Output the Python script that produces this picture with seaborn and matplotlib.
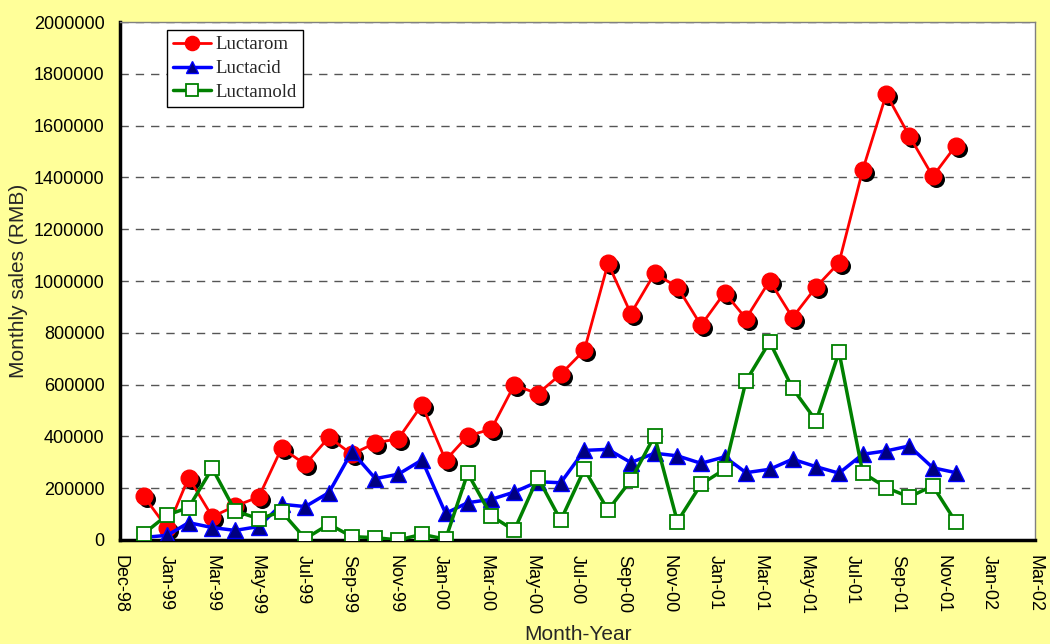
import pandas as pd
import numpy as np
import matplotlib
matplotlib.use('Agg')
import matplotlib.pyplot as plt
import matplotlib.dates as mdates
from matplotlib.transforms import offset_copy
import seaborn as sns

# monthly sales, Jan-99 .. Dec-01
months = pd.date_range('1999-01-01', periods=36, freq='MS')
luctarom = [170000, 45000, 241000, 90000, 131000, 166000, 355000, 292000, 397000, 331000, 375000, 391000,
            522000, 308000, 402000, 428000, 598000, 565000, 640000, 733000, 1068000, 874000, 1029000, 977000,
            829000, 955000, 855000, 1001000, 859000, 977000, 1071000, 1428000, 1722000, 1561000, 1404000, 1522000]
luctacid = [10000, 18000, 67000, 48000, 37000, 52000, 138000, 129000, 183000, 341000, 237000, 254000,
            309000, 103000, 144000, 157000, 185000, 225000, 221000, 346000, 350000, 299000, 335000, 325000,
            296000, 321000, 260000, 273000, 312000, 283000, 258000, 331000, 344000, 363000, 279000, 260000]
luctamold = [24000, 97000, 125000, 277000, 112000, 82000, 109000, 5000, 61000, 13000, 9000, 0,
             22000, 3000, 258000, 93000, 37000, 241000, 76000, 273000, 115000, 231000, 402000, 71000,
             215000, 273000, 614000, 765000, 586000, 460000, 726000, 260000, 202000, 166000, 209000, 70000]

df = pd.DataFrame({'month': months, 'Luctarom': luctarom, 'Luctacid': luctacid, 'Luctamold': luctamold})

sns.set_style('white')
plt.rcParams['font.family'] = ['Liberation Sans', 'DejaVu Sans']

bg = '#FFFF99'
fig = plt.figure(figsize=(10.5, 6.44), dpi=100, facecolor=bg)
ax = fig.add_axes([0.1143, 0.1615, 0.8714, 0.8043])
ax.set_facecolor('white')

# black drop shadow behind the red circles
shadow = offset_copy(ax.transData, fig=fig, x=3, y=-3, units='dots')
sns.scatterplot(x='month', y='Luctarom', data=df, color='black', s=150, linewidth=0,
                transform=shadow, zorder=2.5, ax=ax, legend=False)

sns.lineplot(x='month', y='Luctarom', data=df, color='#FF0000', lw=2, marker='o', markersize=12,
             markerfacecolor='#FF0000', markeredgecolor='#FF0000', markeredgewidth=1,
             label='Luctarom', zorder=3, ax=ax)
sns.lineplot(x='month', y='Luctacid', data=df, color='#0000FF', lw=2.5, marker='^', markersize=11,
             markerfacecolor='#000080', markeredgecolor='#0000FF', markeredgewidth=1,
             label='Luctacid', zorder=4, ax=ax)
sns.lineplot(x='month', y='Luctamold', data=df, color='#008000', lw=2.5, marker='s', markersize=10,
             markerfacecolor='white', markeredgecolor='#008000', markeredgewidth=1.3,
             label='Luctamold', zorder=5, ax=ax)

ax.set_ylim(0, 2000000)
ax.set_yticks(np.arange(0, 2000001, 200000))
ax.yaxis.set_major_formatter(matplotlib.ticker.FuncFormatter(lambda v, p: '%d' % v))

x0 = mdates.date2num(pd.Timestamp('1998-12-01'))
ax.set_xlim(x0, x0 + 1200)
ax.set_xticks(x0 + np.arange(0, 1201, 60))
ax.xaxis.set_major_formatter(mdates.DateFormatter('%b-%y'))

ax.grid(axis='y', color='#555555', linestyle=(0, (6, 5)), lw=1)
ax.grid(axis='x', visible=False)
ax.set_axisbelow(True)

for s in ['left', 'bottom']:
    ax.spines[s].set_color('black')
    ax.spines[s].set_linewidth(2.5)
for s in ['top', 'right']:
    ax.spines[s].set_color('#808080')
    ax.spines[s].set_linewidth(1)

ax.tick_params(axis='both', direction='in', length=6, width=2, colors='black', labelsize=13)
ax.tick_params(axis='x', pad=11, labelrotation=-90)
ax.tick_params(axis='y', pad=11)
for lab in ax.get_xticklabels():
    lab.set_va('top')
    lab.set_ha('center')

ax.set_xlabel('Month-Year', fontsize=15, labelpad=7)
ax.set_ylabel('Monthly sales (RMB)', fontsize=15, labelpad=4)

leg = ax.legend(loc='upper left', bbox_to_anchor=(0.051, 0.985), borderaxespad=0, frameon=True,
                fancybox=False, edgecolor='black', framealpha=1, handlelength=2.0,
                prop={'family': 'Liberation Serif', 'size': 13.5}, labelspacing=0.35,
                borderpad=0.35, handletextpad=0.25, markerscale=0.85)
leg.get_frame().set_linewidth(1)

fig.savefig('out.png', dpi=100, facecolor=bg)
